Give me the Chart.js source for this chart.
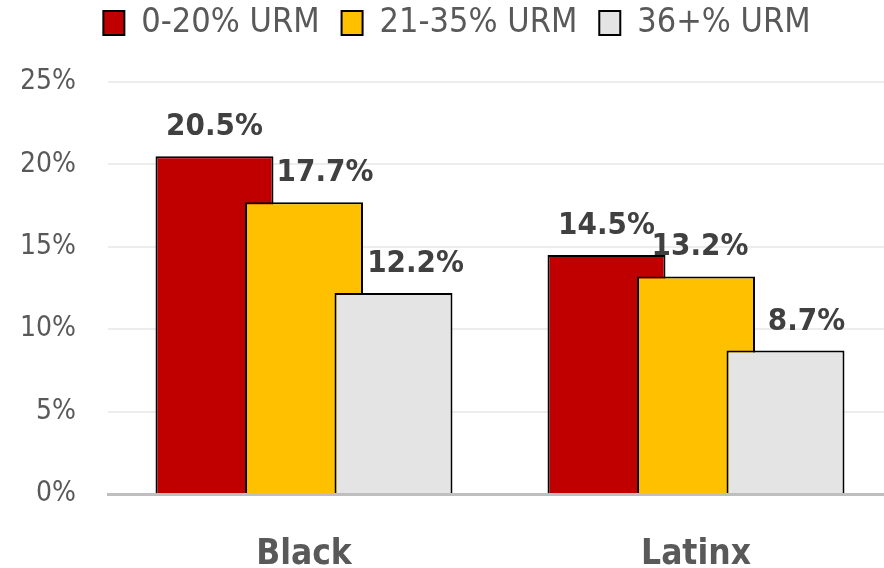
<!DOCTYPE html>
<html>
<head>
<meta charset="utf-8">
<script src="https://cdn.jsdelivr.net/npm/chart.js@4.4.1/dist/chart.umd.min.js"></script>
<style>
    html, body { margin: 0; padding: 0; background: #fff; overflow: hidden; }
    #wrap { width: 884px; height: 568px; overflow: hidden; }
</style>
</head>
<body>
<div id="wrap"><canvas id="urmChart" width="892" height="568"></canvas></div>
<script>
// Chart data
const categories = ['Black', 'Latinx'];
const seriesNames = ['0-20% URM', '21-35% URM', '36+% URM'];
const low = [20.5, 14.5];
const mid = [17.7, 13.2];
const high = [12.2, 8.7];
const yTicks = [0, 5, 10, 15, 20, 25];

const colors = ['#C00000', '#FFC000', '#E4E4E4'];
const FONT = "'DejaVu Sans Condensed', 'Liberation Sans Narrow', sans-serif";

// Excel nudged some labels sideways so they don't collide
const labelShift = [[0, 0], [21, 4], [22, 21]];

// draw series left to right so later bars overlap earlier ones (Excel overlap)
const forwardDraw = {
    id: 'forwardDraw',
    beforeDatasetsDraw(chart) {
        chart.getSortedVisibleDatasetMetas().forEach(meta => meta.controller.draw());
        return false;
    }
};

const valueLabels = {
    id: 'valueLabels',
    afterDraw(chart) {
        const ctx = chart.ctx;
        ctx.save();
        ctx.font = 'bold 31px ' + FONT;
        ctx.fillStyle = '#404040';
        ctx.textAlign = 'center';
        ctx.textBaseline = 'alphabetic';
        chart.data.datasets.forEach((ds, di) => {
            const meta = chart.getDatasetMeta(di);
            meta.data.forEach((bar, i) => {
                const shift = labelShift[di][i] || 0;
                ctx.fillText(ds.data[i].toFixed(1) + '%', bar.x + shift, bar.y - 21);
            });
        });
        ctx.restore();
    }
};

// extra room between the legend and the plot, legend pulled up
const legendGap = {
    id: 'legendGap',
    beforeInit(chart) {
        const fit = chart.legend.fit;
        chart.legend.fit = function() {
            fit.bind(chart.legend)();
            this.height += 16;
        };
    },
    afterLayout(chart) {
        chart.legend.top -= 16;
        chart.legend.bottom -= 16;
    }
};

const ctx = document.getElementById('urmChart');
new Chart(ctx, {
    type: 'bar',
    data: {
        labels: categories,
        datasets: [low, mid, high].map((vals, i) => ({
            label: seriesNames[i],
            data: vals,
            backgroundColor: colors[i],
            borderColor: '#000000',
            borderWidth: 2,
            categoryPercentage: 0.685,
            barPercentage: 1.318
        }))
    },
    options: {
        responsive: false,
        animation: false,
        layout: { padding: { left: 22, right: 0, top: 0, bottom: 0 } },
        plugins: {
            legend: {
                display: true,
                position: 'top',
                labels: {
                    boxWidth: 21,
                    boxHeight: 24,
                    padding: 22,
                    color: '#595959',
                    font: { family: FONT, size: 34 }
                }
            },
            tooltip: { enabled: false }
        },
        scales: {
            x: {
                grid: { display: false, drawTicks: false },
                border: { display: true, color: '#BFBFBF', width: 3 },
                afterFit: axis => { axis.height = 74; },
                ticks: {
                    color: '#595959',
                    padding: 40,
                    font: { family: FONT, size: 35, weight: 'bold' }
                }
            },
            y: {
                min: yTicks[0],
                max: yTicks[yTicks.length - 1],
                afterBuildTicks: axis => { axis.ticks = yTicks.map(v => ({ value: v })); },
                afterFit: axis => { axis.width = 86; },
                grid: {
                    drawTicks: false,
                    color: c => c.tick.value === 0 ? 'rgba(0,0,0,0)' : '#EDEDED',
                    lineWidth: 2
                },
                border: { display: false },
                ticks: {
                    color: '#595959',
                    padding: 32,
                    font: { family: FONT, size: 28 },
                    callback: v => v + '%'
                }
            }
        }
    },
    plugins: [forwardDraw, valueLabels, legendGap]
});
</script>
</body>
</html>
